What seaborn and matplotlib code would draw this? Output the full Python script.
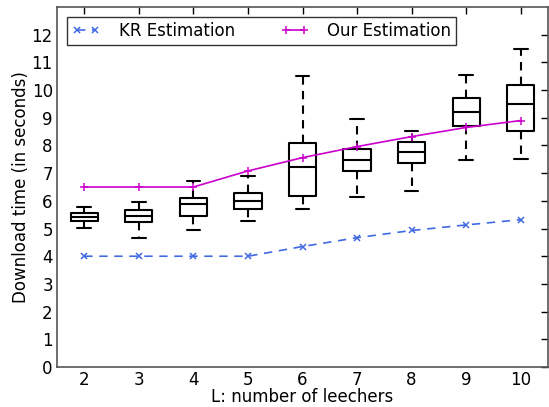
import matplotlib
matplotlib.use("Agg")
import matplotlib.pyplot as plt
import seaborn as sns
import pandas as pd

leechers = [2, 3, 4, 5, 6, 7, 8, 9, 10]
# box statistics per L: [whisker low, q1, median, q3, whisker high]
box_low = [5.03, 4.65, 4.95, 5.28, 5.71, 6.13, 6.37, 7.49, 7.50]
box_q1 = [5.28, 5.25, 5.46, 5.69, 6.16, 7.08, 7.38, 8.72, 8.54]
box_med = [5.43, 5.47, 5.88, 6.01, 7.22, 7.49, 7.76, 9.20, 9.48]
box_q3 = [5.55, 5.67, 6.12, 6.30, 8.08, 7.87, 8.12, 9.71, 10.19]
box_high = [5.76, 5.97, 6.70, 6.91, 10.52, 8.97, 8.53, 10.56, 11.50]
kr_est = [4.0, 4.0, 4.0, 4.0, 4.35, 4.67, 4.93, 5.13, 5.32]
our_est = [6.5, 6.5, 6.5, 7.08, 7.56, 7.96, 8.32, 8.65, 8.90]
yticks = list(range(0, 13))

rows = []
for i, L in enumerate(leechers):
    for v in (box_low[i], box_q1[i], box_med[i], box_q3[i], box_high[i]):
        rows.append({"L": L, "t": v})
box_df = pd.DataFrame(rows)
line_df = pd.DataFrame({"L": leechers, "KR": kr_est, "Our": our_est})

sns.set_style("white")
plt.rcParams["font.family"] = ["DejaVu Sans"]
plt.rcParams["text.color"] = "black"
plt.rcParams["axes.labelcolor"] = "black"
plt.rcParams["xtick.color"] = "black"
plt.rcParams["ytick.color"] = "black"

fig = plt.figure(figsize=(5.49, 4.07), dpi=100)
ax = fig.add_axes([57 / 549, 1 - 367 / 407, (548 - 57) / 549, (367 - 7) / 407])

sns.boxplot(data=box_df, x="L", y="t", native_scale=True, width=0.5,
            whis=(0, 100), fill=False, color="black", linewidth=1.5,
            showfliers=False, ax=ax,
            whiskerprops=dict(linestyle=(0, (4, 3)), linewidth=1.5, color="black"),
            capprops=dict(linewidth=1.5, color="black"),
            medianprops=dict(linewidth=1.5, color="black"),
            boxprops=dict(linewidth=1.5, color="black"))

kr_color = "#4169E1"
our_color = "#CC00CC"
sns.lineplot(data=line_df, x="L", y="KR", ax=ax, color=kr_color,
             linestyle=(0, (5, 4)), marker="x", markersize=5,
             markeredgewidth=1.1, markeredgecolor=kr_color,
             label="KR Estimation", linewidth=1.2, legend=False)
sns.lineplot(data=line_df, x="L", y="Our", ax=ax, color=our_color,
             marker="+", markersize=6, markeredgewidth=1.1,
             markeredgecolor=our_color,
             label="Our Estimation", linewidth=1.2, legend=False)

ax.set_xlim(1.5, 10.5)
ax.set_ylim(0, 13)
ax.set_xticks(leechers)
ax.set_xticklabels([str(v) for v in leechers])
ax.set_yticks(yticks)
ax.tick_params(axis="both", which="both", direction="in", top=True, right=True,
               length=5, width=1, labelsize=12, color="black",
               labelcolor="black", pad=3)
for s in ax.spines.values():
    s.set_color("#555555")
    s.set_linewidth(1.2)
ax.set_xlabel("L: number of leechers", fontsize=12, labelpad=-1)
ax.set_ylabel("Download time (in seconds)", fontsize=12, labelpad=1)

handles = [ln for ln in ax.lines if ln.get_label() in ("KR Estimation", "Our Estimation")]
leg = ax.legend(handles=handles, loc="upper left", ncol=2, fontsize=12,
                frameon=True, fancybox=False, edgecolor="black",
                borderaxespad=0.6, columnspacing=2.75, handlelength=1.7,
                handletextpad=1.1, borderpad=0.3, numpoints=2)
leg.get_frame().set_linewidth(1.0)

fig.savefig("out.png", dpi=100)
